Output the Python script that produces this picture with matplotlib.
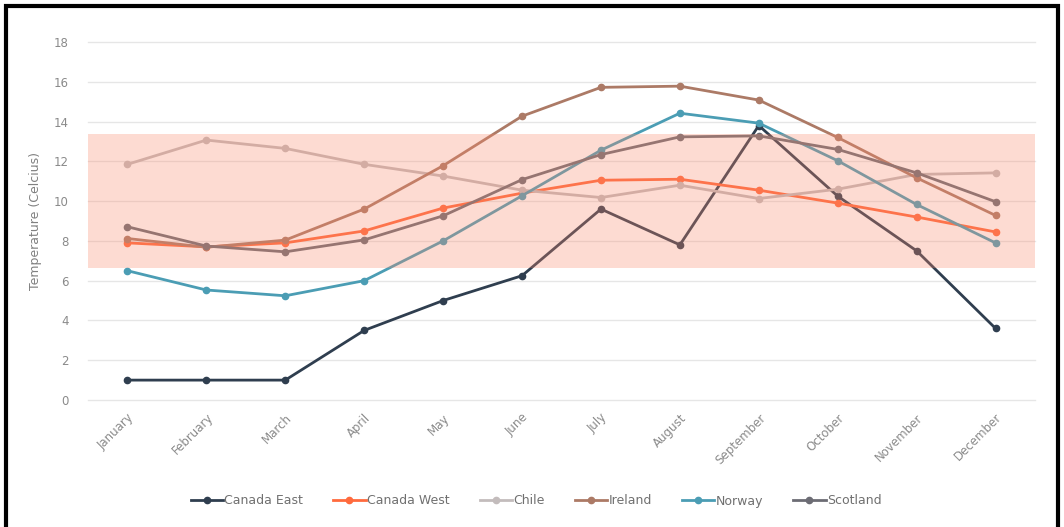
import matplotlib.pyplot as plt
from matplotlib.patches import Rectangle

months = ['January', 'February', 'March', 'April', 'May', 'June', 'July',
          'August', 'September', 'October', 'November', 'December']

canada_east = [1.0, 1.0, 1.0, 3.5, 5.0, 6.25, 9.6, 7.8, 13.8, 10.25, 7.5, 3.6]
canada_west = [7.9, 7.7, 7.9, 8.5, 9.65, 10.4, 11.05, 11.1, 10.55, 9.9, 9.2, 8.45]
chile = [11.85, 13.07, 12.65, 11.85, 11.26, 10.55, 10.18, 10.8, 10.13, 10.6, 11.34, 11.42]
ireland = [8.12, 7.68, 8.04, 9.6, 11.78, 14.27, 15.72, 15.78, 15.08, 13.2, 11.17, 9.28]
norway = [6.5, 5.53, 5.24, 6.0, 8.0, 10.27, 12.56, 14.42, 13.92, 12.03, 9.83, 7.9]
scotland = [8.71, 7.74, 7.45, 8.05, 9.26, 11.08, 12.34, 13.23, 13.28, 12.6, 11.42, 9.97]

band_low = 6.65
band_high = 13.35

series = [
    ('Canada East', canada_east, '#2f3e4f'),
    ('Canada West', canada_west, '#ff6a3d'),
    ('Chile', chile, '#c3bcbc'),
    ('Ireland', ireland, '#ac7a66'),
    ('Norway', norway, '#4b9db4'),
    ('Scotland', scotland, '#6c6c74'),
]

fig = plt.figure(figsize=(10.64, 5.27), dpi=100)
ax = fig.add_axes([88 / 1064, 127 / 527, (1035 - 88) / 1064, (400 - 42) / 527])

x = list(range(len(months)))
for name, vals, col in series:
    ax.plot(x, vals, color=col, lw=2.0, marker='o', ms=4.5, label=name, zorder=3)

# shaded comfort range
ax.axhspan(band_low, band_high, color='#fa8a6c', alpha=0.3, lw=0, zorder=4)

ax.set_xlim(-0.5, 11.5)
ax.set_ylim(0, 18)
ax.set_yticks(range(0, 19, 2))
ax.set_xticks(x)
ax.set_xticklabels(months, rotation=45, ha='right', rotation_mode='anchor')
ax.tick_params(axis='both', length=0, colors='#8a8a8a', labelsize=8.5)
ax.tick_params(axis='y', pad=14)
ax.tick_params(axis='x', pad=8)
ax.grid(axis='y', color='#e6e6e6', lw=1.0, zorder=5)
for gl in ax.get_ygridlines():
    gl.set_clip_on(False)
ax.set_axisbelow(False)
for s in ax.spines.values():
    s.set_visible(False)
ax.set_ylabel('Temperature (Celcius)', color='#808080', fontsize=9, labelpad=8)

ax.legend(loc='center', bbox_to_anchor=(536 / 1064, 1 - 501 / 527),
          bbox_transform=fig.transFigure, ncol=6, frameon=False,
          fontsize=9, labelcolor='#707070', handlelength=2.6,
          handletextpad=0.1, columnspacing=2.4)

# black frame around the chart
fig.patches.append(Rectangle((6 / 1064, -0.02), 1052 / 1064, 1.0 - 6 / 527 + 0.02,
                             transform=fig.transFigure, fill=False,
                             edgecolor='black', lw=3))

fig.savefig('out.png', dpi=100)
